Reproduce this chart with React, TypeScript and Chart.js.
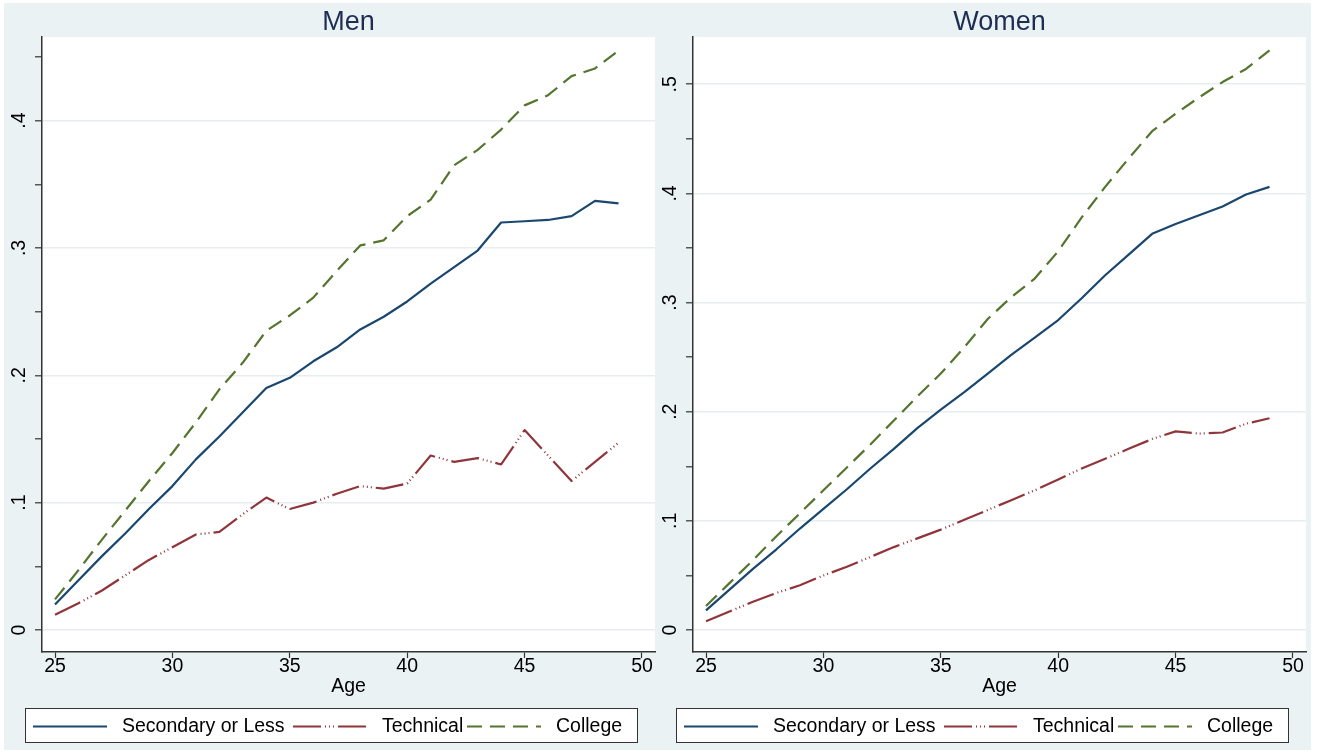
import React, { useEffect, useRef } from 'react';
import { Chart, registerables } from 'chart.js';

Chart.register(...registerables);

// ---------------- data ----------------
const ages = [25, 26, 27, 28, 29, 30, 31, 32, 33, 34, 35, 36, 37, 38, 39, 40, 41, 42, 43, 44, 45, 46, 47, 48, 49];
const seriesNames = ['Secondary or Less', 'Technical', 'College'];

const menSecondary = [0.020, 0.039, 0.058, 0.076, 0.095, 0.113, 0.134, 0.152, 0.171, 0.190, 0.198, 0.211, 0.222, 0.236, 0.246, 0.258, 0.272, 0.285, 0.298, 0.320, 0.321, 0.322, 0.325, 0.337, 0.335];
const menTechnical = [0.012, 0.021, 0.031, 0.043, 0.055, 0.065, 0.075, 0.077, 0.091, 0.104, 0.095, 0.100, 0.107, 0.113, 0.111, 0.115, 0.137, 0.132, 0.135, 0.130, 0.157, 0.137, 0.117, 0.132, 0.147];
const menCollege = [0.024, 0.047, 0.071, 0.094, 0.117, 0.139, 0.163, 0.189, 0.210, 0.235, 0.247, 0.261, 0.282, 0.302, 0.306, 0.325, 0.338, 0.365, 0.377, 0.393, 0.412, 0.420, 0.435, 0.441, 0.455];

const womenSecondary = [0.018, 0.037, 0.056, 0.074, 0.093, 0.111, 0.129, 0.148, 0.166, 0.185, 0.202, 0.218, 0.235, 0.252, 0.268, 0.284, 0.304, 0.325, 0.344, 0.363, 0.372, 0.380, 0.388, 0.399, 0.406];
const womenTechnical = [0.008, 0.017, 0.026, 0.034, 0.041, 0.050, 0.058, 0.067, 0.076, 0.084, 0.092, 0.101, 0.110, 0.119, 0.128, 0.138, 0.148, 0.157, 0.166, 0.175, 0.182, 0.180, 0.181, 0.189, 0.194];
const womenCollege = [0.022, 0.043, 0.064, 0.086, 0.107, 0.128, 0.149, 0.170, 0.192, 0.214, 0.235, 0.259, 0.285, 0.305, 0.322, 0.347, 0.378, 0.406, 0.432, 0.457, 0.473, 0.488, 0.502, 0.514, 0.531];

const xTickValues = [25, 30, 35, 40, 45, 50];
const menYTickValues = [0, 0.05, 0.1, 0.15, 0.2, 0.25, 0.3, 0.35, 0.4, 0.45];
const menYTickLabels = ['0', '', '.1', '', '.2', '', '.3', '', '.4', ''];
const womenYTickValues = [0, 0.05, 0.1, 0.15, 0.2, 0.25, 0.3, 0.35, 0.4, 0.45, 0.5];
const womenYTickLabels = ['0', '', '.1', '', '.2', '', '.3', '', '.4', '', '.5'];

// ---------------- styles ----------------
const COLORS = ['#1a476f', '#90353b', '#55752f'];
const DASHES: number[][] = [[], [28, 4, 1, 3, 1, 3, 1, 4], [15, 8]];
const BG = '#eaf2f3';
const GRID = '#e6eef0';
const AXIS = '#333333';
const FONT = '"Liberation Sans", Arial, Helvetica, sans-serif';
const CANVAS_H = 747;
const LEGEND_COLS = [8, 268, 442];

type PanelProps = {
  title: string;
  series: number[][];
  yTicks: number[];
  yLabels: string[];
  yMin: number;
  yMax: number;
  left: number;
  width: number;
  axisW: number;
};

function Panel({ title, series, yTicks, yLabels, yMin, yMax, left, width, axisW }: PanelProps) {
  const ref = useRef<HTMLCanvasElement | null>(null);

  useEffect(() => {
    const canvas = ref.current;
    if (!canvas) return;

    const panelPlugin = {
      id: 'panelDeco',
      beforeDraw(chart: any) {
        const { ctx, chartArea: a } = chart;
        ctx.save();
        ctx.fillStyle = '#ffffff';
        ctx.fillRect(a.left, a.top, a.right - a.left, a.bottom - a.top);
        ctx.restore();
      },
      afterDraw(chart: any) {
        const { ctx, chartArea: a } = chart;
        const yScale = chart.scales.y;
        ctx.save();
        // title
        ctx.font = `27px ${FONT}`;
        ctx.fillStyle = '#1f2d55';
        ctx.textAlign = 'center';
        ctx.textBaseline = 'middle';
        ctx.fillText(title, (a.left + a.right) / 2, 20);

        // rotated y tick labels
        ctx.font = `19.5px ${FONT}`;
        ctx.fillStyle = '#000000';
        yTicks.forEach((v, i) => {
          const lab = yLabels[i];
          if (!lab) return;
          const py = yScale.getPixelForValue(v);
          ctx.save();
          ctx.translate(a.left - 22, py);
          ctx.rotate(-Math.PI / 2);
          ctx.textAlign = 'center';
          ctx.textBaseline = 'middle';
          ctx.fillText(lab, 0, 0);
          ctx.restore();
        });

        // legend
        const boxL = Math.round(a.left - 17);
        const boxT = 705;
        const boxW = 612;
        const boxH = 34;
        ctx.fillStyle = '#ffffff';
        ctx.fillRect(boxL, boxT, boxW, boxH);
        ctx.strokeStyle = AXIS;
        ctx.lineWidth = 1;
        ctx.strokeRect(boxL + 0.5, boxT + 0.5, boxW, boxH);
        const cy = boxT + boxH / 2 + 1.5;
        seriesNames.forEach((name, i) => {
          const x0 = boxL + LEGEND_COLS[i];
          ctx.beginPath();
          ctx.setLineDash(DASHES[i]);
          ctx.strokeStyle = COLORS[i];
          ctx.lineWidth = 2.2;
          ctx.moveTo(x0, cy);
          ctx.lineTo(x0 + 74, cy);
          ctx.stroke();
          ctx.setLineDash([]);
          ctx.font = `19.5px ${FONT}`;
          ctx.fillStyle = '#000000';
          ctx.textAlign = 'left';
          ctx.textBaseline = 'middle';
          ctx.fillText(name, x0 + 89, cy);
        });
        ctx.restore();
      },
    };

    const chart = new Chart(canvas, {
      type: 'line',
      data: {
        datasets: series.map((s, i) => ({
          label: seriesNames[i],
          data: ages.map((a, j) => ({ x: a, y: s[j] })),
          borderColor: COLORS[i],
          backgroundColor: COLORS[i],
          borderWidth: 2.2,
          borderDash: DASHES[i],
          borderJoinStyle: 'round',
          pointRadius: 0,
          fill: false,
          tension: 0,
        })),
      },
      options: {
        animation: false,
        responsive: false,
        devicePixelRatio: 1,
        layout: { padding: { top: 34, left: 0, right: 2, bottom: 54 } },
        plugins: {
          legend: { display: false },
          tooltip: { enabled: false },
          title: { display: false },
        },
        scales: {
          x: {
            type: 'linear',
            min: 24.446,
            max: 50.554,
            afterBuildTicks: (s: any) => {
              s.ticks = xTickValues.map((v) => ({ value: v }));
            },
            afterFit: (s: any) => {
              s.height = 44;
            },
            grid: {
              display: true,
              drawOnChartArea: false,
              drawTicks: true,
              tickLength: 6,
              tickColor: AXIS,
              tickWidth: 1.2,
            },
            border: { display: true, color: AXIS, width: 1.5 },
            ticks: {
              color: '#000000',
              font: { family: FONT, size: 19.5, lineHeight: 1 },
              padding: -1,
              maxRotation: 0,
              minRotation: 0,
              autoSkip: false,
              callback: (v: any) => String(v),
            },
            title: {
              display: true,
              text: 'Age',
              color: '#000000',
              font: { family: FONT, size: 19.5, lineHeight: 1 },
              padding: 0,
            },
          },
          y: {
            type: 'linear',
            min: yMin,
            max: yMax,
            afterBuildTicks: (s: any) => {
              s.ticks = yTicks.map((v) => ({ value: v }));
            },
            afterFit: (s: any) => {
              s.width = axisW;
            },
            grid: {
              color: (c: any) => (yLabels[c.index] ? GRID : 'rgba(0,0,0,0)'),
              lineWidth: 1.6,
              drawOnChartArea: true,
              drawTicks: true,
              tickLength: 7,
              tickColor: AXIS,
              tickWidth: 1.2,
            },
            border: { display: true, color: AXIS, width: 1.5 },
            ticks: { display: false },
          },
        },
      },
      plugins: [panelPlugin],
    } as any);

    return () => {
      chart.destroy();
    };
  }, [title, series, yTicks, yLabels, yMin, yMax, axisW]);

  return (
    <canvas
      ref={ref}
      width={width}
      height={CANVAS_H}
      style={{ position: 'absolute', left, top: 0, width, height: CANVAS_H }}
    />
  );
}

export default function App() {
  return (
    <div style={{ position: 'absolute', left: 0, top: 0, width: 1320, height: 754, background: '#ffffff', overflow: 'hidden' }}>
      <div style={{ position: 'absolute', left: 4, top: 3, width: 1307, height: CANVAS_H, background: BG }}>
        <Panel
          title="Men"
          series={[menSecondary, menTechnical, menCollege]}
          yTicks={menYTickValues}
          yLabels={menYTickLabels}
          yMin={-0.0173}
          yMax={0.4657}
          left={0}
          width={653}
          axisW={38}
        />
        <Panel
          title="Women"
          series={[womenSecondary, womenTechnical, womenCollege]}
          yTicks={womenYTickValues}
          yLabels={womenYTickLabels}
          yMin={-0.0201}
          yMax={0.5433}
          left={653}
          width={651}
          axisW={36}
        />
      </div>
    </div>
  );
}
